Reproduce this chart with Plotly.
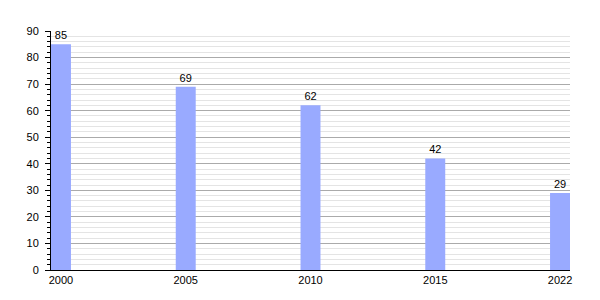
import plotly.graph_objects as go

years = ["2000", "2005", "2010", "2015", "2022"]
values = [85, 69, 62, 42, 29]

fig = go.Figure()
fig.add_trace(go.Bar(
    x=years, y=values, width=0.16,
    marker=dict(color="#99AAFF", line=dict(width=0)),
    text=[str(v) for v in values], textposition="outside",
    textfont=dict(family="Liberation Sans, Arial", size=11, color="#000000"),
    cliponaxis=False,
))
fig.update_layout(
    width=600, height=300,
    margin=dict(l=51, r=30, t=31, b=30),
    paper_bgcolor="white", plot_bgcolor="white",
    showlegend=False,
    font=dict(family="Liberation Sans, Arial", size=11, color="#000000"),
    xaxis=dict(type="category", range=[-0.08, 4.08], showgrid=False,
               showline=True, linecolor="#000000", linewidth=1,
               ticks="", tickfont=dict(size=11)),
    yaxis=dict(range=[0, 90], dtick=10, showgrid=True, gridcolor="#AAAAAA", gridwidth=1,
               showline=True, linecolor="#000000", linewidth=1,
               ticks="outside", ticklen=5, tickcolor="#000000", zeroline=False,
               tickfont=dict(size=11), ticklabelstandoff=4,
               minor=dict(dtick=2, showgrid=True, gridcolor="#E4E4E4", gridwidth=1,
                          ticks="outside", ticklen=3, tickcolor="#000000")),
)
fig.write_html("out.html")
